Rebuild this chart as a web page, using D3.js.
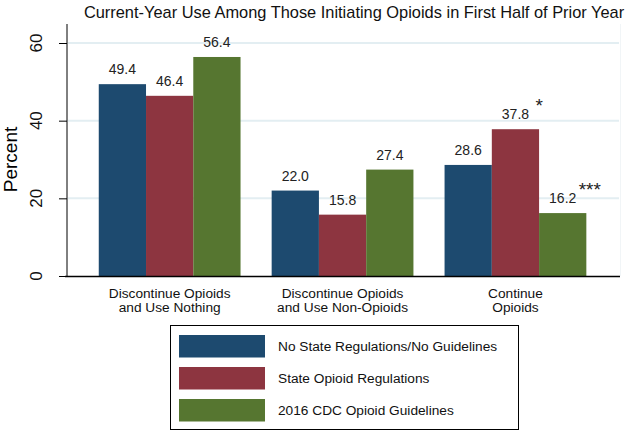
<!DOCTYPE html>
<html><head><meta charset="utf-8">
<script src="https://cdn.jsdelivr.net/npm/d3@7"></script>
<style>body{margin:0;background:#fff}svg{display:block;font-family:Arial,"Liberation Sans",sans-serif}</style>
</head><body>
<script>
const categories = [["Discontinue Opioids","and Use Nothing"],["Discontinue Opioids","and Use Non-Opioids"],["Continue","Opioids"]];
const seriesNames = ["No State Regulations/No Guidelines","State Opioid Regulations","2016 CDC Opioid Guidelines"];
const noRegs = [49.4, 22.0, 28.6];
const stateRegs = [46.4, 15.8, 37.8];
const cdc = [56.4, 27.4, 16.2];
const stars = [["","",""],["","",""],["","*","***"]];
const yTicks = [0, 20, 40, 60];
const colors = ["#1d4a6f","#8d3540","#567630"];

const W = 629, H = 432;
const svg = d3.select("body").append("svg").attr("width", W).attr("height", H);
const series = [noRegs, stateRegs, cdc];
const catIdx = d3.range(categories.length);

const y = d3.scaleLinear().domain([0, 60]).range([276, 43]);
const x0 = d3.scaleBand().domain(catIdx).range([83.2, 601.9]).paddingInner(0.18).paddingOuter(0.09);
const x1 = d3.scaleBand().domain(d3.range(series.length)).range([0, x0.bandwidth()]);

// faint plot border on the right
svg.append("line").attr("x1", 620.5).attr("x2", 620.5).attr("y1", 24).attr("y2", 276)
  .attr("stroke", "#f1f5f7").attr("stroke-width", 1);

// gridlines
svg.append("g").selectAll("line").data(yTicks.filter(t => t > 0)).join("line")
  .attr("x1", 68).attr("x2", 619).attr("y1", d => y(d)).attr("y2", d => y(d))
  .attr("stroke", "#e3eef2").attr("stroke-width", 2);

// title
svg.append("text").attr("x", 354).attr("y", 18).attr("text-anchor", "middle")
  .attr("font-size", 16.4).attr("fill", "#111").text("Current-Year Use Among Those Initiating Opioids in First Half of Prior Year");

// bars
const g = svg.append("g");
catIdx.forEach(c => {
  series.forEach((s, k) => {
    const bx = x0(c) + x1(k);
    const cx = bx + x1.bandwidth() / 2;
    g.append("rect").attr("x", bx).attr("y", y(s[c])).attr("width", x1.bandwidth())
      .attr("height", y(0) - y(s[c])).attr("fill", colors[k]);
    g.append("text").attr("x", cx).attr("y", y(s[c]) - 10)
      .attr("text-anchor", "middle").attr("font-size", 14).attr("fill", "#222").text(s[c].toFixed(1));
    if (stars[c][k]) {
      g.append("text").attr("x", cx + (stars[c][k].length > 1 ? 16 : 20)).attr("y", y(s[c]) - 17)
        .attr("text-anchor", "start").attr("font-size", 19).attr("fill", "#222").text(stars[c][k]);
    }
  });
});

// y axis
const yAxis = svg.append("g").attr("transform", "translate(67,0)")
  .call(d3.axisLeft(y).tickValues(yTicks).tickSize(8).tickPadding(6));
yAxis.select(".domain").attr("stroke", "#000").attr("d", "M0," + (y(0) + 0.5) + "V24");
yAxis.selectAll(".tick").attr("transform", null);
yAxis.selectAll(".tick line").attr("stroke", "#000").attr("x2", -8)
  .attr("y1", d => y(d) + 0.5).attr("y2", d => y(d) + 0.5);
yAxis.selectAll(".tick text").attr("font-size", 17).attr("fill", "#111")
  .attr("x", 0).attr("y", 0).attr("dy", null).attr("text-anchor", "middle")
  .attr("transform", d => "translate(" + (-25) + "," + y(d) + ") rotate(-90)");

svg.append("text").attr("transform", "translate(17," + y(30) + ") rotate(-90)")
  .attr("text-anchor", "middle").attr("font-size", 19).attr("fill", "#000").text("Percent");

// x axis
svg.append("line").attr("x1", 65).attr("x2", 620).attr("y1", 276.5).attr("y2", 276.5).attr("stroke", "#000").attr("stroke-width", 1.5);
const xl = svg.append("g");
catIdx.forEach(c => {
  categories[c].forEach((ln, i) => {
    xl.append("text").attr("x", x0(c) + x0.bandwidth() / 2).attr("y", 298 + i * 14)
      .attr("text-anchor", "middle").attr("font-size", 13.7).attr("fill", "#111").text(ln);
  });
});

// legend
const lg = svg.append("g");
lg.append("rect").attr("x", 170.5).attr("y", 325.5).attr("width", 348).attr("height", 104)
  .attr("fill", "#fff").attr("stroke", "#000").attr("stroke-width", 1);
seriesNames.forEach((n, k) => {
  const ry = 335 + k * 32;
  lg.append("rect").attr("x", 179).attr("y", ry).attr("width", 86).attr("height", 22.5).attr("fill", colors[k]);
  lg.append("text").attr("x", 278).attr("y", ry + 11.5).attr("dy", "0.35em").attr("font-size", 13.7).attr("fill", "#111").text(n);
});
</script>
</body></html>
